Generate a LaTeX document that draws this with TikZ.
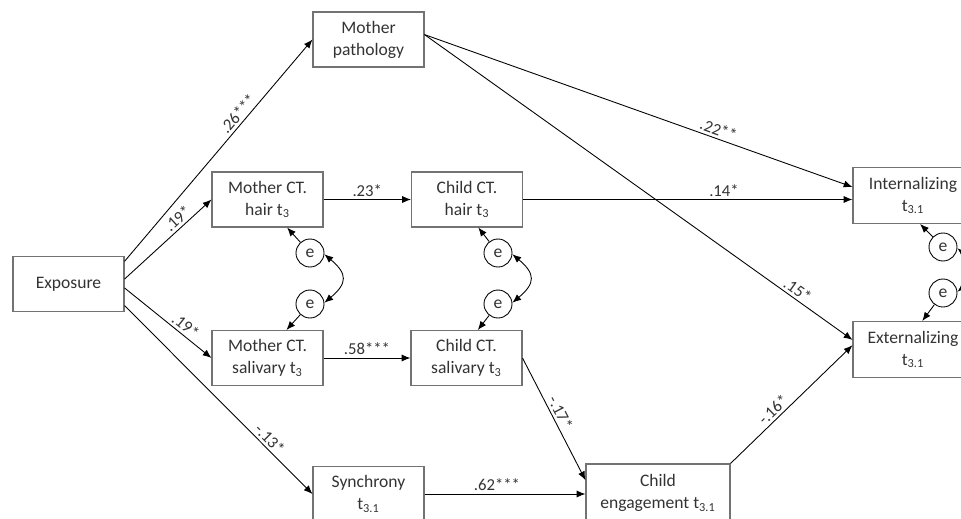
\documentclass[tikz,border=0pt]{standalone}
\usepackage{fontspec}
\setmainfont{Carlito}
\usetikzlibrary{arrows.meta}

\begin{document}
\begin{tikzpicture}[x=0.02cm,y=-0.02cm,
		font=\fontsize{10}{12.5}\selectfont,line width=0.5pt,
		>={Latex[length=5pt,width=4pt]},
		box/.style={shape=rectangle,draw=black!55,text=black!80,align=center,minimum width=2.22cm,minimum height=1.1cm,inner sep=1pt,line width=0.6pt},
		err/.style={shape=circle,draw=black,text=black!80,minimum size=0.56cm,inner sep=0pt},
		lbl/.style={sloped,above,text=black!80,font=\fontsize{9.5}{11}\selectfont,inner sep=1.5pt}]

		\useasboundingbox (0,0) rectangle (961,518);

		\node[box] (expo)  at (68.5, 284)   {Exposure};
		\node[box] (mpath) at (368.5, 39.5) {Mother\\pathology};
		\node[box] (mhair) at (267.5, 199.5) {Mother CT.\\hair t\textsubscript{3}};
		\node[box] (chair) at (467, 199.5)   {Child CT.\\hair t\textsubscript{3}};
		\node[box] (msal)  at (267.5, 358)   {Mother CT.\\salivary t\textsubscript{3}};
		\node[box] (csal)  at (466.5, 358)   {Child CT.\\salivary t\textsubscript{3}};
		\node[box] (sync)  at (368.5, 494)   {Synchrony\\t\textsubscript{3.1}};
		\node[box,minimum width=2.88cm,minimum height=1.16cm] (ceng) at (658, 493) {Child\\engagement t\textsubscript{3.1}};
		\node[box,minimum width=2.4cm,minimum height=1.12cm] (intl) at (913, 195.5) {Internalizing\\t\textsubscript{3.1}};
		\node[box,minimum width=2.4cm,minimum height=1.12cm] (extl) at (913, 349.5) {Externalizing\\t\textsubscript{3.1}};

		\node[err] (e1) at (310, 253) {e};
		\node[err] (e2) at (310, 304) {e};
		\node[err] (e3) at (498, 253) {e};
		\node[err] (e4) at (498, 304) {e};
		\node[err] (e5) at (943, 247) {e};
		\node[err] (e6) at (943, 293) {e};

		\path[->] (expo.22)  edge node[lbl,pos=0.64] {.26***} (mpath.west);
		\path[->] (expo.5)   edge node[lbl,pos=0.68] {.19*}   (mhair.west);
		\path[->] (expo.-4)  edge node[lbl,pos=0.64] {.19*}   (msal.west);
		\path[->] (expo.-21) edge node[lbl,pos=0.74] {-.13*}  (sync.west);

		\path[->] (mhair.east) edge node[lbl] {.23*}   (chair.west);
		\path[->] (msal.east)  edge node[lbl] {.58***} (csal.west);
		\path[->] (sync.east)  edge node[lbl,pos=0.45] {.62***} (sync.east -| ceng.west);

		\path[->] (mpath.5)    edge node[lbl,pos=0.68] {.22**} (intl.172);
		\path[->] (mpath.5)    edge node[lbl,pos=0.86] {.15*}  (extl.171);
		\path[->] (chair.east) edge node[lbl,pos=0.61] {.14*}  (chair.east -| intl.west);
		\path[->] (csal.east)  edge node[lbl,pos=0.48] {-.17*} (ceng.170);
		\path[->] (ceng.north east) edge node[lbl,pos=0.4] {-.16*} (extl.176);

		\path[->] (e1) edge (mhair.-55);
		\path[->] (e2) edge (msal.56);
		\path[->] (e3) edge (chair.-68);
		\path[->] (e4) edge (csal.68);
		\path[->] (e5) edge (intl.-76);
		\path[->] (e6) edge (extl.72);

		\path[<->] (e1.-5) edge[out=-40,in=40,looseness=1.6] (e2.5);
		\path[<->] (e3.-5) edge[out=-40,in=40,looseness=1.6] (e4.5);
		\path[<->] (e5.-5) edge[out=-40,in=40,looseness=1.6] (e6.5);
\end{tikzpicture}
\end{document}
